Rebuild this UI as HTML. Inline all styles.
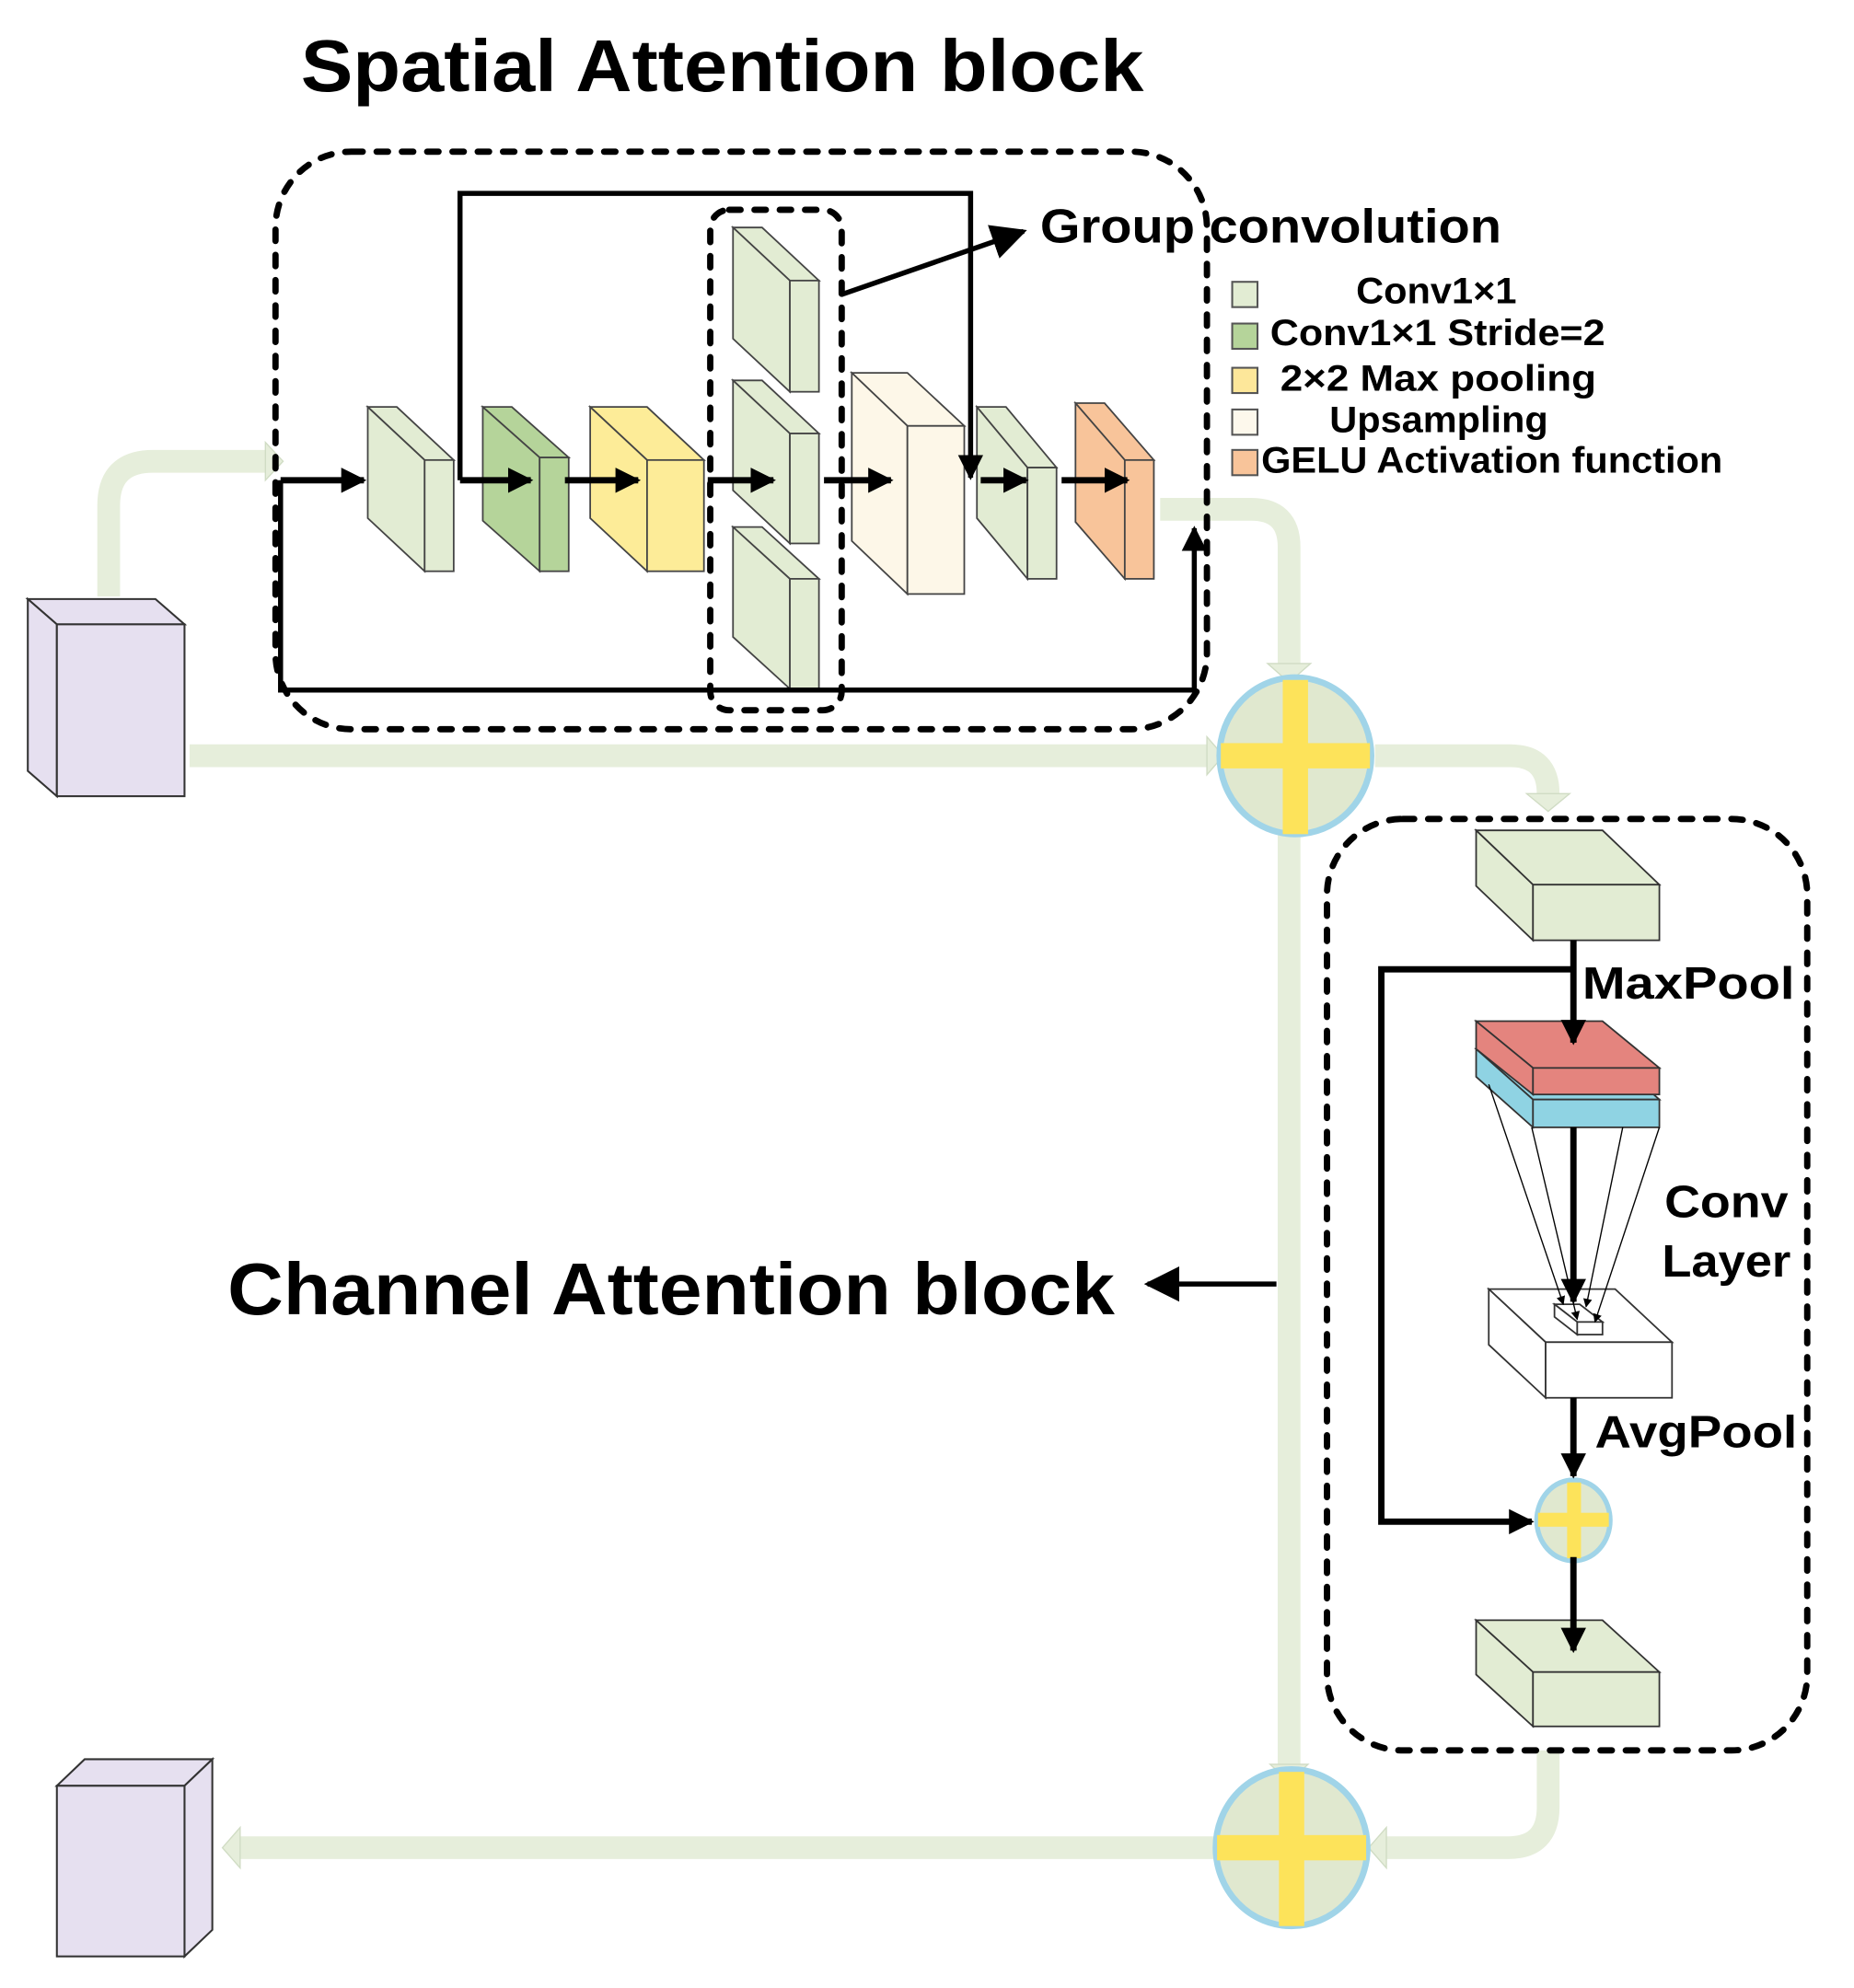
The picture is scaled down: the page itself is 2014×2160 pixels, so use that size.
<!DOCTYPE html>
<html><head><meta charset="utf-8"><style>html,body{margin:0;padding:0;background:#fff}svg{display:block}</style></head>
<body>
<svg width="2014" height="2160" viewBox="0 0 1467 1573" preserveAspectRatio="none" xmlns="http://www.w3.org/2000/svg">
<defs>
<marker id="ah" viewBox="0 0 10 10" refX="9" refY="5" markerWidth="4" markerHeight="4" orient="auto"><path d="M0,0 L10,5 L0,10 z" fill="#000"/></marker>
<marker id="ahs" viewBox="0 0 10 10" refX="9" refY="5" markerWidth="5" markerHeight="5" orient="auto"><path d="M0,0 L10,5 L0,10 z" fill="#000"/></marker>
<marker id="aht" viewBox="0 0 10 10" refX="9" refY="5" markerWidth="7" markerHeight="7" orient="auto"><path d="M0,0 L10,5 L0,10 z" fill="#000"/></marker>
</defs>
<g font-family="Liberation Sans, DejaVu Sans, sans-serif" font-weight="bold" fill="#000">
<text x="238" y="72" font-size="58" textLength="667" lengthAdjust="spacingAndGlyphs">Spatial Attention block</text>
<text x="823" y="192" font-size="38" textLength="365" lengthAdjust="spacingAndGlyphs">Group convolution</text>
<text x="1073" y="240" font-size="29" textLength="127" lengthAdjust="spacingAndGlyphs">Conv1×1</text>
<text x="1005" y="273" font-size="29" textLength="265" lengthAdjust="spacingAndGlyphs">Conv1×1 Stride=2</text>
<text x="1013" y="309" font-size="29" textLength="250" lengthAdjust="spacingAndGlyphs">2×2 Max pooling</text>
<text x="1052" y="342" font-size="29" textLength="173" lengthAdjust="spacingAndGlyphs">Upsampling</text>
<text x="998" y="374" font-size="29" textLength="365" lengthAdjust="spacingAndGlyphs">GELU Activation function</text>
<text x="180" y="1040" font-size="58" textLength="702" lengthAdjust="spacingAndGlyphs">Channel Attention block</text>
<text x="1252" y="790" font-size="36" textLength="168" lengthAdjust="spacingAndGlyphs">MaxPool</text>
<text x="1317" y="963" font-size="36" textLength="98" lengthAdjust="spacingAndGlyphs">Conv</text>
<text x="1315" y="1010" font-size="36" textLength="102" lengthAdjust="spacingAndGlyphs">Layer</text>
<text x="1262" y="1145" font-size="36" textLength="160" lengthAdjust="spacingAndGlyphs">AvgPool</text>
</g>
<g stroke="#555" stroke-width="1.5">
<rect x="975" y="223" width="20" height="20" fill="#e2ecd3"/>
<rect x="975" y="256" width="20" height="20" fill="#b5d49a"/>
<rect x="975" y="291" width="20" height="20" fill="#fde79a"/>
<rect x="975" y="324" width="20" height="20" fill="#fdf8ec"/>
<rect x="975" y="356" width="20" height="20" fill="#f8c49a"/>
</g>
<g fill="none" stroke="#e6eedb" stroke-width="18">
<path d="M86,472 V400 Q86,365 121,365 H210"/>
<path d="M918,403 H990 Q1020,403 1020,433 V525"/>
<path d="M150,598 H955"/>
<path d="M1020,660 V1398"/>
<path d="M1088,598 H1195 Q1225,598 1225,628"/>
<path d="M1080,1462 H188"/>
<path d="M1225,1385 V1430 Q1225,1462 1193,1462 H1095"/>
</g>
<g fill="#e6eedb" stroke="#d0dcc4" stroke-width="1">
<path d="M210,350 L224,365 L210,380 z"/>
<path d="M1003,525 L1037,525 L1020,540 z"/>
<path d="M955,583 L968,598 L955,613 z"/>
<path d="M1005,1396 L1035,1396 L1020,1410 z"/>
<path d="M1208,628 L1242,628 L1225,642 z"/>
<path d="M190,1446 L176,1462 L190,1478 z"/>
<path d="M1097,1446 L1083,1462 L1097,1478 z"/>
</g>
<g stroke="#333" stroke-width="1.5" fill="#e6e0f0">
<polygon points="22,474 123,474 146,494 45,494"/>
<polygon points="22,474 45,494 45,630 22,610"/>
<rect x="45" y="494" width="101" height="136"/>
<polygon points="45,1413 146,1413 168,1392 67,1392"/>
<polygon points="146,1413 168,1392 168,1527 146,1548"/>
<rect x="45" y="1413" width="101" height="135"/>
</g>
<g fill="none" stroke="#000" stroke-width="5" stroke-dasharray="9,11" stroke-linecap="round">
<rect x="218" y="120" width="737" height="457" rx="60"/>
<rect x="562" y="166" width="104" height="396" rx="15"/>
<rect x="1050" y="648" width="380" height="737" rx="60"/>
</g>
<g stroke="#444" stroke-width="1.3">
<g fill="#e2ecd3"><polygon points="291,322 314,322 359,364 336,364"/><polygon points="291,322 336,364 336,452 291,410"/><rect x="336" y="364" width="23" height="88"/></g>
<g fill="#b5d49a"><polygon points="382,322 405,322 450,362 427,362"/><polygon points="382,322 427,362 427,452 382,412"/><rect x="427" y="362" width="23" height="90"/></g>
<g fill="#fdec98"><polygon points="467,322 512,322 557,364 512,364"/><polygon points="467,322 512,364 512,452 467,410"/><rect x="512" y="364" width="45" height="88"/></g>
<g fill="#e2ecd3"><polygon points="580,180 603,180 648,222 625,222"/><polygon points="580,180 625,222 625,310 580,268"/><rect x="625" y="222" width="23" height="88"/></g>
<g fill="#e2ecd3"><polygon points="580,301 603,301 648,343 625,343"/><polygon points="580,301 625,343 625,430 580,388"/><rect x="625" y="343" width="23" height="87"/></g>
<g fill="#e2ecd3"><polygon points="580,417 603,417 648,458 625,458"/><polygon points="580,417 625,458 625,545 580,504"/><rect x="625" y="458" width="23" height="87"/></g>
<g fill="#fdf7e8"><polygon points="674,295 718,295 763,337 718,337"/><polygon points="674,295 718,337 718,470 674,428"/><rect x="718" y="337" width="45" height="133"/></g>
<g fill="#e2ecd3"><polygon points="773,322 796,322 836,370 813,370"/><polygon points="773,322 813,370 813,458 773,410"/><rect x="813" y="370" width="23" height="88"/></g>
<g fill="#f8c49a"><polygon points="851,319 874,319 913,364 890,364"/><polygon points="851,319 890,364 890,458 851,413"/><rect x="890" y="364" width="23" height="94"/></g>
</g>
<g stroke="#000" stroke-width="5" fill="none" marker-end="url(#ah)">
<line x1="222" y1="380" x2="288" y2="380"/>
<line x1="364" y1="380" x2="420" y2="380"/>
<line x1="447" y1="380" x2="505" y2="380"/>
<line x1="560" y1="380" x2="612" y2="380"/>
<line x1="652" y1="380" x2="705" y2="380"/>
<line x1="776" y1="380" x2="812" y2="380"/>
<line x1="840" y1="380" x2="892" y2="380"/>
</g>
<g stroke="#000" stroke-width="4" fill="none">
<path d="M364,380 V153 H768 V378" marker-end="url(#ahs)"/>
<path d="M222,380 V546 H945 V418" marker-end="url(#ahs)"/>
<line x1="666" y1="233" x2="810" y2="183" marker-end="url(#aht)"/>
<line x1="1010" y1="1016" x2="908" y2="1016" marker-end="url(#aht)"/>
</g>
<g>
<ellipse cx="1025" cy="598" rx="60" ry="62" fill="#e0e8cf" stroke="#a0d4e8" stroke-width="5"/>
<rect x="966" y="588" width="118" height="20" fill="#fde35a"/><rect x="1015" y="538" width="20" height="122" fill="#fde35a"/>
<ellipse cx="1022" cy="1462" rx="60" ry="62" fill="#e0e8cf" stroke="#a0d4e8" stroke-width="5"/>
<rect x="963" y="1452" width="118" height="20" fill="#fde35a"/><rect x="1012" y="1402" width="20" height="122" fill="#fde35a"/>
<ellipse cx="1245" cy="1203" rx="29" ry="32" fill="#e0e8cf" stroke="#a0d4e8" stroke-width="4"/>
<rect x="1217" y="1197" width="56" height="11" fill="#fde35a"/><rect x="1240" y="1173" width="11" height="60" fill="#fde35a"/>
</g>
<g stroke="#333" stroke-width="1.3">
<g fill="#e2ecd3"><polygon points="1168,657 1268,657 1313,700 1213,700"/><polygon points="1168,657 1213,700 1213,744 1168,701"/><rect x="1213" y="700" width="100" height="44"/></g>
<g fill="#8fd3e3"><polygon points="1168,830 1268,830 1313,870 1213,870"/><polygon points="1168,830 1213,870 1213,892 1168,852"/><rect x="1213" y="870" width="100" height="22"/></g>
<g fill="#e4847e"><polygon points="1168,808 1268,808 1313,845 1213,845"/><polygon points="1168,808 1213,845 1213,866 1168,830"/><rect x="1213" y="845" width="100" height="21"/></g>
<g fill="#fff"><polygon points="1178,1020 1278,1020 1323,1062 1223,1062"/><polygon points="1178,1020 1223,1062 1223,1106 1178,1064"/><rect x="1223" y="1062" width="100" height="44"/>
<polygon points="1230,1032 1250,1032 1268,1046 1248,1046"/><polygon points="1230,1032 1248,1046 1248,1056 1230,1042"/><rect x="1248" y="1046" width="20" height="10"/></g>
<g fill="#e2ecd3"><polygon points="1168,1282 1268,1282 1313,1323 1213,1323"/><polygon points="1168,1282 1213,1323 1213,1366 1168,1325"/><rect x="1213" y="1323" width="100" height="43"/></g>
</g>
<g stroke="#000" stroke-width="1" fill="none" marker-end="url(#aht)">
<line x1="1178" y1="858" x2="1237" y2="1032"/>
<line x1="1212" y1="892" x2="1248" y2="1044"/>
<line x1="1284" y1="892" x2="1255" y2="1034"/>
<line x1="1313" y1="892" x2="1262" y2="1046"/>
</g>
<g stroke="#000" stroke-width="5" fill="none" marker-end="url(#ah)">
<line x1="1245" y1="744" x2="1245" y2="825"/>
<line x1="1245" y1="892" x2="1245" y2="1030"/>
<line x1="1245" y1="1106" x2="1245" y2="1168"/>
<line x1="1245" y1="1232" x2="1245" y2="1306"/>
<path d="M1245,767 H1093 V1204 H1212"/>
</g>
</svg>
</body></html>
